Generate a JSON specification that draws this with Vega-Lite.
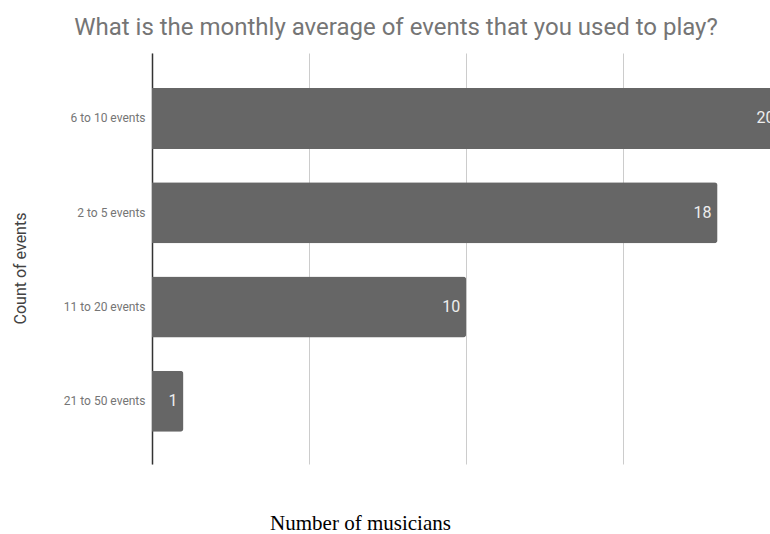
{
  "$schema": "https://vega.github.io/schema/vega-lite/v6.json",
  "autosize": {"type": "none"},
  "padding": {"left": 152, "top": 53, "right": 0, "bottom": 70},
  "width": 618,
  "height": 411,
  "background": "white",
  "title": {
    "text": "What is the monthly average of events that you used to play?",
    "font": "Roboto",
    "fontSize": 24,
    "fontWeight": "normal",
    "color": "#757575",
    "anchor": "middle",
    "dx": -65,
    "offset": 13
  },
  "data": {
    "values": [
      {"events": "6 to 10 events", "musicians": 20},
      {"events": "2 to 5 events", "musicians": 18},
      {"events": "11 to 20 events", "musicians": 10},
      {"events": "21 to 50 events", "musicians": 1}
    ]
  },
  "config": {"view": {"stroke": null}},
  "encoding": {
    "y": {
      "field": "events",
      "type": "nominal",
      "sort": null,
      "scale": {"paddingInner": 0.353, "paddingOuter": 0.356, "align": 0.52},
      "axis": {
        "title": "Count of events",
        "titleFont": "Roboto",
        "titleFontSize": 16,
        "titleFontWeight": "normal",
        "titleColor": "#424242",
        "titlePadding": 35,
        "titleY": 215,
        "labelFont": "Roboto",
        "labelFontSize": 12,
        "labelColor": "#757575",
        "labelPadding": 7,
        "ticks": false,
        "domainColor": "#333333",
        "domainWidth": 1.5,
        "grid": false
      }
    },
    "x": {
      "field": "musicians",
      "type": "quantitative",
      "scale": {"domain": [0, 19.67], "nice": false, "zero": true},
      "axis": {
        "title": "Number of musicians",
        "titleFont": "Liberation Serif",
        "titleFontSize": 21,
        "titleFontWeight": "normal",
        "titleColor": "#000000",
        "titleX": 208,
        "titlePadding": 48,
        "values": [0, 5, 10, 15, 20],
        "labels": false,
        "ticks": false,
        "domain": false,
        "grid": true,
        "gridColor": "#cccccc",
        "gridWidth": 1
      }
    }
  },
  "layer": [
    {
      "mark": {"type": "bar", "fill": "#666666", "cornerRadiusEnd": 3}
    },
    {
      "mark": {
        "type": "text",
        "align": "right",
        "baseline": "middle",
        "dx": -6,
        "font": "Roboto",
        "fontSize": 16,
        "fill": "#eeeeee"
      },
      "encoding": {"text": {"field": "musicians", "type": "quantitative"}}
    }
  ]
}
